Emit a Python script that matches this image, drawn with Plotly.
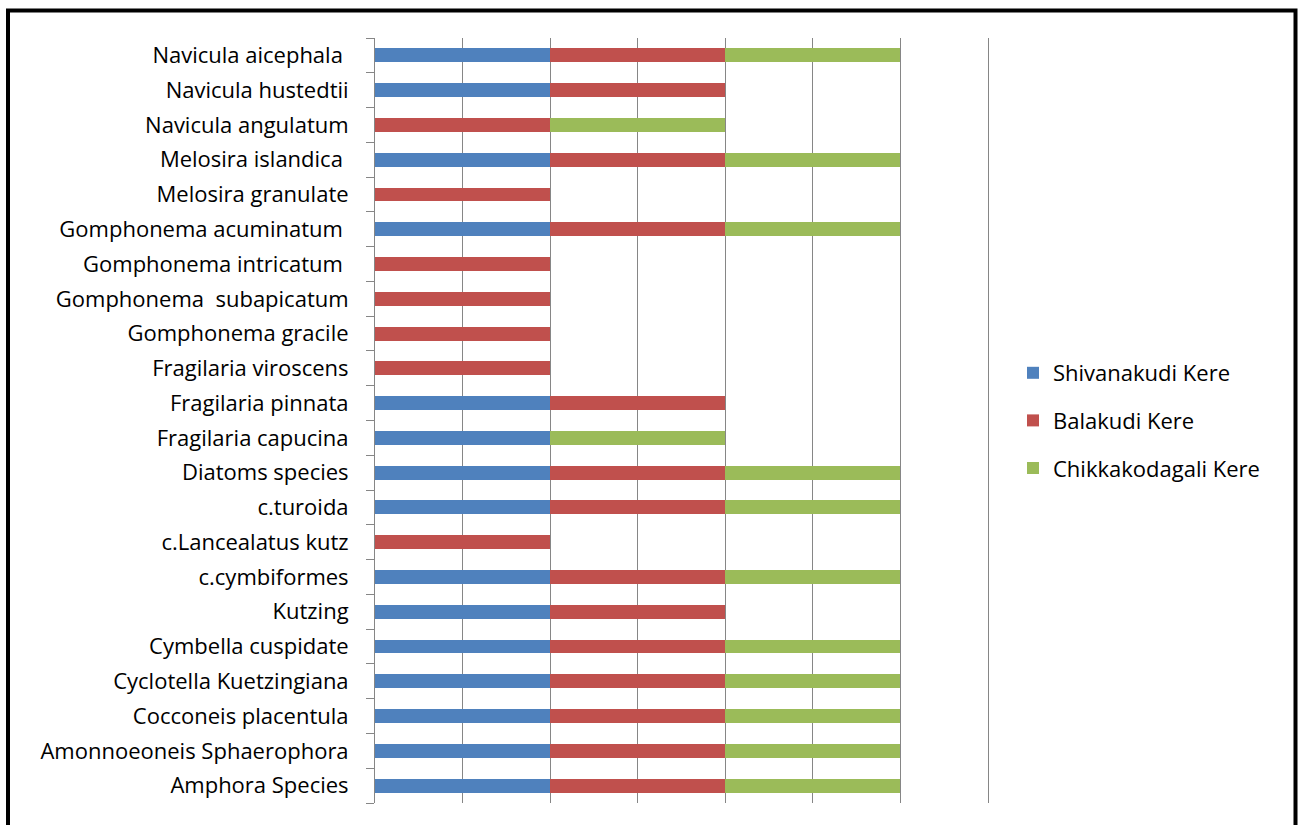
import plotly.graph_objects as go

species = [
    "Amphora Species", "Amonnoeoneis Sphaerophora", "Cocconeis placentula",
    "Cyclotella Kuetzingiana", "Cymbella cuspidate", "Kutzing", "c.cymbiformes",
    "c.Lancealatus kutz", "c.turoida", "Diatoms species", "Fragilaria capucina",
    "Fragilaria pinnata", "Fragilaria viroscens", "Gomphonema gracile",
    "Gomphonema  subapicatum", "Gomphonema intricatum\u00a0", "Gomphonema acuminatum\u00a0",
    "Melosira granulate", "Melosira islandica\u00a0", "Navicula angulatum",
    "Navicula hustedtii", "Navicula aicephala\u00a0",
]
shivanakudi = [1, 1, 1, 1, 1, 1, 1, 0, 1, 1, 1, 1, 0, 0, 0, 0, 1, 0, 1, 0, 1, 1]
balakudi = [1, 1, 1, 1, 1, 1, 1, 1, 1, 1, 0, 1, 1, 1, 1, 1, 1, 1, 1, 1, 1, 1]
chikkakodagali = [1, 1, 1, 1, 1, 0, 1, 0, 1, 1, 1, 0, 0, 0, 0, 0, 1, 0, 1, 1, 0, 1]

series = [
    ("Shivanakudi Kere", shivanakudi, "#4F81BD"),
    ("Balakudi Kere", balakudi, "#C0504D"),
    ("Chikkakodagali Kere", chikkakodagali, "#9BBB59"),
]

W, H = 1300, 825
L, R, T, B = 375, 991, 38, 803
FONT = "Open Sans, Lato, sans-serif"

fig = go.Figure()
for i, (name, vals, color) in enumerate(series):
    fig.add_trace(go.Bar(
        y=species, x=vals, name=name, orientation="h",
        marker=dict(color=color, line=dict(width=0)),
        width=0.4, legendgroup=f"g{i}",
    ))

def px_to_paper_x(px):
    return (px - L) / (R - L)

def px_to_paper_y(py):
    return (B - py) / (B - T)

fig.add_shape(
    type="rect", xref="paper", yref="paper",
    x0=px_to_paper_x(8), x1=px_to_paper_x(1295.5),
    y0=px_to_paper_y(840), y1=px_to_paper_y(10.5),
    line=dict(color="black", width=4), fillcolor="rgba(0,0,0,0)", layer="above",
)

fig.update_layout(
    width=W, height=H,
    margin=dict(l=L, r=W - R, t=T, b=H - B, pad=0),
    barmode="stack",
    bargap=0.6,
    paper_bgcolor="white", plot_bgcolor="white",
    font=dict(family=FONT, size=22, color="black"),
    showlegend=True,
    legend=dict(
        x=px_to_paper_x(1013), y=0.5, xanchor="left", yanchor="middle",
        traceorder="grouped", tracegroupgap=16,
        font=dict(family=FONT, size=22, color="black"),
        bgcolor="rgba(0,0,0,0)",
    ),
    xaxis=dict(
        range=[0, 3.517], dtick=0.5, showticklabels=False,
        showgrid=True, gridcolor="#868686", gridwidth=1,
        zeroline=False, showline=False, ticks="",
    ),
    yaxis=dict(
        type="category", categoryorder="array", categoryarray=species,
        showline=True, linecolor="#868686", linewidth=1,
        ticks="outside", ticklen=8, tickcolor="#868686", tickwidth=1,
        tickson="boundaries", showgrid=False,
        tickfont=dict(family=FONT, size=22, color="black"),
        ticklabelstandoff=21,
    ),
)

fig.write_html("out.html")
